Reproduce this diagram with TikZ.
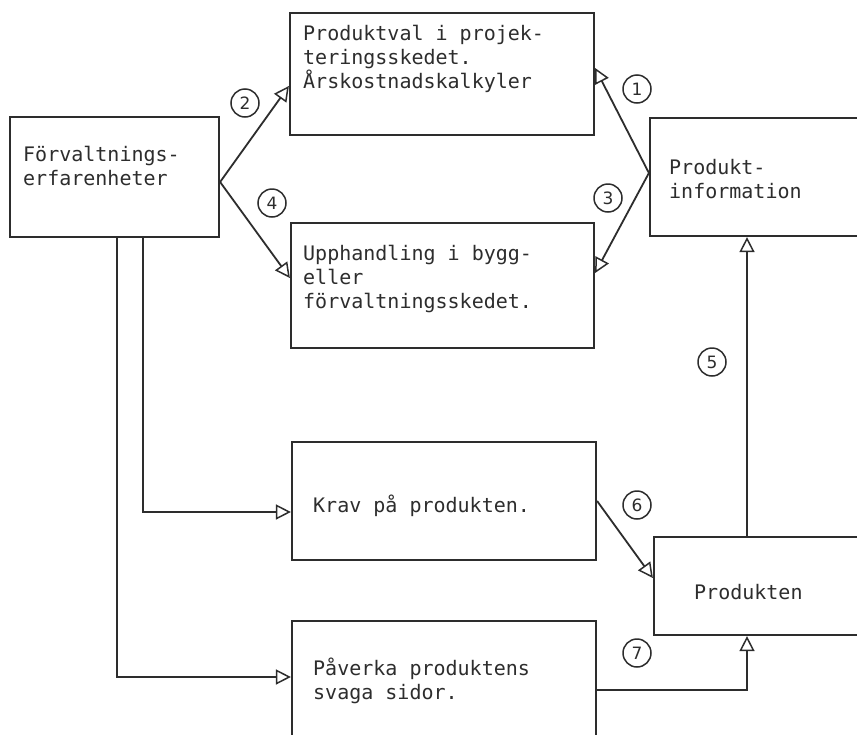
\documentclass[tikz,border=0pt]{standalone}
\usepackage{fontspec}
\newfontfamily\tw{DejaVu Sans Mono}
\newfontfamily\cf{DejaVu Sans}
\usetikzlibrary{arrows.meta}
\definecolor{ink}{RGB}{45,45,45}
\tikzset{
  box/.style={draw=ink, line width=2.2pt, rectangle, inner sep=0pt},
  txt/.style={text=ink, inner sep=0pt, anchor=north west, align=left, font=\tw\fontsize{20}{24}\selectfont},
  conn/.style={draw=ink, line width=1.8pt, -{Triangle[open, length=15pt, width=15pt, line width=1.5pt]}},
  num/.style={draw=ink, circle, line width=1.5pt, minimum size=28pt, inner sep=0pt, text=ink, font=\cf\fontsize{17}{17}\selectfont}
}
\begin{document}
\begin{tikzpicture}[x=1pt,y=-1pt]
\useasboundingbox (0,0) rectangle (857,734);
\fill[white] (0,0) rectangle (857,734);
\clip (0,0) rectangle (857,734);
% boxes
\node[box, minimum width=209pt, minimum height=120pt] (F) at (114.5,177) {};
\node[box, minimum width=304pt, minimum height=122pt] (P1) at (442,74) {};
\node[box, minimum width=303pt, minimum height=125pt] (P2) at (442.5,285.5) {};
\node[box, minimum width=220pt, minimum height=118pt] (PI) at (760,177) {};
\node[box, minimum width=304pt, minimum height=118pt] (K) at (444,501) {};
\node[box, minimum width=216pt, minimum height=98pt] (PR) at (762,586) {};
\node[box, minimum width=304pt, minimum height=129pt] (PV) at (444,685.5) {};
% texts
\node[txt] (Ft) at (23,146) {Förvaltnings-\\erfarenheter};
\node[txt] (P1t) at (303,25) {Produktval i projek-\\teringsskedet.\\Årskostnadskalkyler};
\node[txt] (P2t) at (303,245) {Upphandling i bygg-\\eller\\förvaltningsskedet.};
\node[txt] (PIt) at (669,159) {Produkt-\\information};
\node[txt, anchor=base west] (Kt) at (313,512) {Krav på produkten.};
\node[txt] (PVt) at (313,658) {Påverka produktens\\svaga sidor.};
\node[txt, anchor=base west] (PRt) at (694,599) {Produkten};
% helper coordinates
\coordinate (c5) at (747,0);
\coordinate (cK) at (143,0);
\coordinate (cV) at (117,0);
% connectors
\draw[conn] ([yshift=-5pt]F.east) -- ([yshift=-12pt]P1.west);
\draw[conn] ([yshift=-5pt]F.east) -- ([yshift=7.5pt]P2.west);
\draw[conn] ([yshift=4pt]PI.west) -- ([yshift=6pt]P1.east);
\draw[conn] ([yshift=4pt]PI.west) -- ([yshift=12.5pt]P2.east);
\draw[conn] (PR.north -| c5) -- (PI.south -| c5);
\draw[conn] (K.east) -- ([yshift=8pt]PR.west);
\draw[conn] ([yshift=-4.5pt]PV.east) -| (PR.south -| c5);
\draw[conn] (F.south -| cK) |- ([yshift=-11pt]K.west);
\draw[conn] (F.south -| cV) |- ([yshift=8.5pt]PV.west);
% numbers
\node[num] (n1) at (637,89) {1};
\node[num] (n2) at (245,103) {2};
\node[num] (n3) at (608,198) {3};
\node[num] (n4) at (272,203) {4};
\node[num] (n5) at (712,362) {5};
\node[num] (n6) at (637,505) {6};
\node[num] (n7) at (637,653) {7};
\end{tikzpicture}
\end{document}
